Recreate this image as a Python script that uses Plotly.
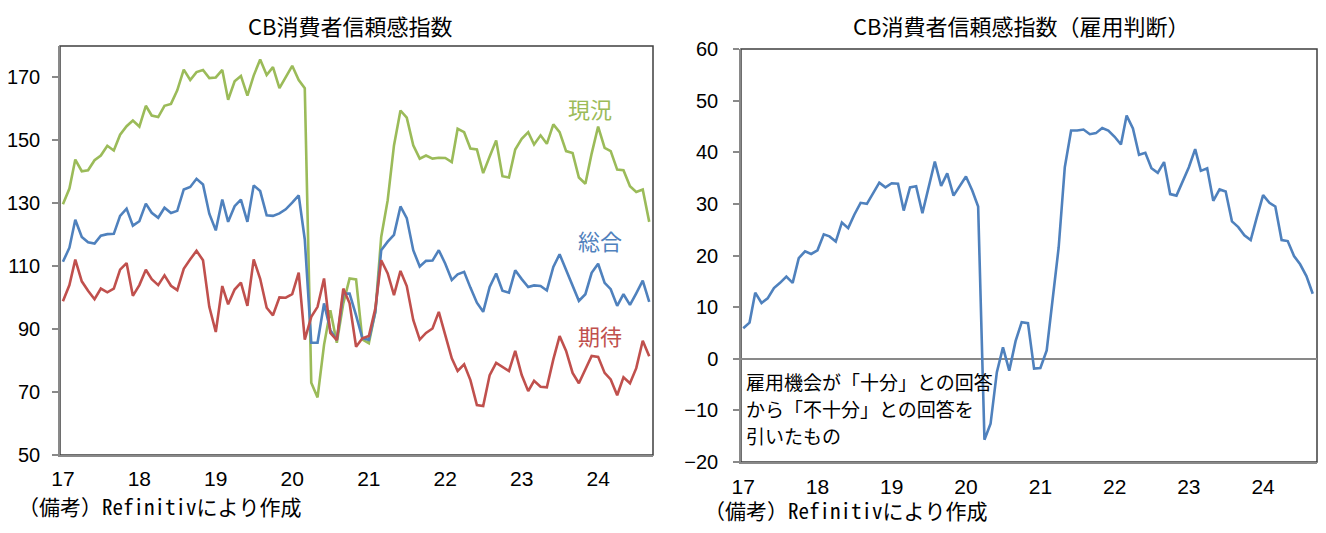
import pandas as pd
import plotly.graph_objects as go

# monthly data, 2017-01 .. 2024-09
months = pd.date_range("2017-01-01", periods=93, freq="MS")

genkyo = [129.7, 134.7, 143.9, 140.2, 140.5, 143.7, 145.2, 148.3, 146.8, 151.8, 154.5, 156.3,
          154.4, 161.0, 157.9, 157.4, 161.0, 161.6, 165.9, 172.5, 169.2, 171.7, 172.4, 169.8,
          170.0, 172.4, 162.9, 168.8, 170.5, 164.2, 170.6, 175.7, 170.8, 173.3, 166.6, 170.1,
          173.7, 169.2, 166.6, 73.0, 68.3, 85.0, 96.0, 85.7, 98.2, 106.1, 105.8, 86.7,
          85.5, 95.5, 119.3, 131.0, 148.4, 159.5, 157.2, 148.4, 144.2, 145.2, 144.2, 144.5,
          144.4, 143.1, 153.7, 152.6, 147.4, 147.1, 139.6, 144.9, 150.0, 138.6, 138.2, 147.1,
          150.5, 152.6, 148.7, 151.6, 148.9, 155.1, 152.6, 146.6, 146.0, 138.2, 136.2, 145.8,
          154.4, 147.6, 146.6, 140.7, 140.5, 135.4, 133.6, 134.4, 124.1]

sogo = [111.4, 115.9, 124.8, 119.3, 117.6, 117.2, 119.7, 120.2, 120.3, 126.0, 128.3, 122.9,
        124.3, 129.9, 127.0, 125.4, 128.6, 126.9, 127.6, 134.4, 135.2, 137.8, 136.0, 126.7,
        121.4, 131.2, 124.1, 129.1, 131.2, 124.1, 135.7, 133.9, 126.2, 126.0, 126.8, 128.1,
        130.2, 132.5, 118.5, 85.7, 85.7, 98.2, 89.7, 86.5, 101.3, 101.3, 94.4, 87.1,
        86.6, 95.5, 115.1, 117.8, 120.0, 129.0, 125.3, 115.1, 109.9, 111.7, 111.8, 115.1,
        110.8, 105.6, 107.4, 108.2, 103.2, 98.4, 95.5, 103.4, 107.7, 102.2, 101.6, 108.7,
        105.9, 103.4, 103.9, 103.7, 102.3, 109.8, 113.8, 108.7, 103.9, 99.0, 101.1, 107.9,
        110.8, 104.7, 102.7, 97.4, 101.1, 97.7, 101.4, 105.4, 98.7]

kitai = [98.9, 104.0, 112.1, 105.2, 102.2, 99.5, 102.9, 101.7, 102.9, 108.9, 111.0, 100.6,
         104.0, 108.9, 105.9, 104.0, 107.1, 103.8, 102.4, 109.2, 112.2, 114.9, 111.9, 97.1,
         89.1, 103.7, 97.9, 102.6, 104.8, 97.4, 112.2, 106.0, 96.8, 94.4, 100.1, 100.0,
         101.1, 108.0, 86.7, 93.9, 97.1, 106.1, 88.8, 86.5, 102.9, 98.2, 84.4, 87.1,
         87.8, 96.6, 111.9, 107.7, 100.8, 108.5, 103.7, 92.9, 86.7, 88.8, 90.2, 95.5,
         88.1, 80.7, 76.7, 78.8, 73.8, 65.9, 65.6, 75.4, 79.3, 78.0, 76.7, 83.1,
         75.4, 70.3, 73.6, 71.7, 71.5, 80.4, 87.8, 83.1, 76.1, 72.8, 77.2, 81.5,
         81.2, 76.1, 74.0, 69.0, 74.7, 72.8, 77.6, 86.3, 81.4]

koyo = [5.9, 7.0, 12.8, 10.8, 11.7, 13.7, 14.7, 15.9, 14.7, 19.5, 20.8, 20.3,
        21.0, 24.1, 23.7, 22.7, 26.4, 25.3, 27.9, 30.2, 30.0, 32.1, 34.1, 33.2,
        34.0, 33.9, 28.7, 33.2, 33.4, 28.2, 33.2, 38.2, 33.5, 35.9, 31.6, 33.4,
        35.3, 32.6, 29.5, -15.7, -12.6, -2.6, 2.2, -2.3, 3.4, 7.1, 6.9, -1.9,
        -1.8, 1.6, 10.6, 21.6, 37.1, 44.2, 44.2, 44.4, 43.5, 43.7, 44.7, 44.2,
        43.0, 41.5, 47.1, 44.6, 39.5, 39.9, 36.9, 36.0, 38.1, 31.9, 31.6, 34.3,
        37.1, 40.6, 36.4, 36.9, 30.6, 32.8, 32.4, 26.6, 25.5, 23.9, 23.0, 27.4,
        31.7, 30.2, 29.5, 23.0, 22.8, 19.9, 18.3, 16.0, 12.6]

for s in (genkyo, sogo, kitai, koyo):
    assert len(s) == len(months)

year_ticks = pd.date_range("2017-01-01", periods=8, freq="YS")
year_labels = ["17", "18", "19", "20", "21", "22", "23", "24"]

note_lines = ["雇用機会が「十分」との回答", "から「不十分」との回答を", "引いたもの"]

GREEN = "#9BBB59"
BLUE = "#4F81BD"
RED = "#C0504D"
AXIS = "#898989"
FRAME = "#3F3F3F"

# the page body adds an 8px margin, so the figure is drawn 8px in from the corner
OFF = 8
W, H = 1326 - 2 * OFF, 533 - 2 * OFF


def px(x):
    return (x - OFF) / W


def py(y):
    return 1 - (y - OFF) / H


JP = "Noto Sans CJK JP"
NUM = "Liberation Sans"
NARROW = "Liberation Sans Narrow, Liberation Sans"
MONO = "Noto Sans Mono CJK JP, Noto Sans CJK JP"

fig = go.Figure()
for name, vals, col in [("現況", genkyo, GREEN), ("総合", sogo, BLUE), ("期待", kitai, RED)]:
    fig.add_trace(go.Scatter(x=months, y=vals, mode="lines", name=name,
                             line=dict(color=col, width=2.6), xaxis="x", yaxis="y"))
fig.add_trace(go.Scatter(x=months, y=koyo, mode="lines", name="雇用判断",
                         line=dict(color=BLUE, width=2.6), xaxis="x2", yaxis="y2"))

xcommon = dict(type="date", tickmode="array", tickvals=year_ticks, ticktext=year_labels,
               showgrid=False, zeroline=False, ticks="", automargin=False,
               showline=True, linecolor=AXIS, linewidth=1.5)
ycommon = dict(showgrid=False, ticks="outside", ticklen=6, tickcolor=AXIS, tickwidth=1.5,
               tickfont=dict(family=NUM, size=20, color="#000000"), automargin=False,
               showline=True, linecolor=AXIS, linewidth=1.5)

fig.update_layout(
    width=W, height=H,
    margin=dict(l=0, r=0, t=0, b=0),
    paper_bgcolor="white", plot_bgcolor="white",
    showlegend=False,
    xaxis=dict(domain=[px(60), px(653)], range=["2016-12-18", "2024-09-19"], anchor="y",
               tickfont=dict(family=NARROW, size=21, color="#000000"),
               ticklabelstandoff=4, **xcommon),
    yaxis=dict(domain=[py(455), py(46)], range=[50, 180],
               tickvals=[50, 70, 90, 110, 130, 150, 170], anchor="x", zeroline=False,
               ticklabelstandoff=8, **ycommon),
    xaxis2=dict(domain=[px(741), px(1317)], range=["2016-12-21", "2024-09-22"], anchor="y2",
                tickfont=dict(family=NUM, size=21, color="#000000"),
                ticklabelstandoff=5, **xcommon),
    yaxis2=dict(domain=[py(462), py(49)], range=[-20, 60], dtick=10,
                anchor="x2", zeroline=True, zerolinecolor=AXIS, zerolinewidth=1.5,
                ticklabelstandoff=11, **ycommon),
)

# plot-area frames
for xr, yr in (("x domain", "y domain"), ("x2 domain", "y2 domain")):
    fig.add_shape(type="rect", xref=xr, yref=yr, x0=0, x1=1, y0=0, y1=1,
                  line=dict(color=FRAME, width=1.5), layer="below")

# panel titles, pinned to the top edge so they are not clipped
for text, x in [("CB消費者信頼感指数", 350), ("CB消費者信頼感指数（雇用判断）", 1021)]:
    fig.add_annotation(text=text, xref="paper", yref="paper", x=px(x), y=1,
                       xanchor="center", yanchor="top", showarrow=False, borderpad=0,
                       font=dict(family=JP, size=22, color="#000000"))

for text, x, y, col in [("現況", 590, 108, GREEN), ("総合", 600, 240, BLUE), ("期待", 600, 335, RED)]:
    fig.add_annotation(text=text, xref="paper", yref="paper",
                       x=px(x), y=py(y), xanchor="center", yanchor="middle",
                       showarrow=False, font=dict(family=JP, size=22, color=col))

for k, line in enumerate(note_lines):
    fig.add_annotation(text=line, xref="paper", yref="paper", x=px(744),
                       y=py(381 + 27 * k), xanchor="left", yanchor="middle",
                       showarrow=False, font=dict(family=JP, size=19, color="#000000"))

for x0, y0 in [(16, 506), (702, 510)]:
    fig.add_annotation(text="（備考）Refinitivにより作成", xref="paper", yref="paper",
                       x=px(x0), y=py(y0), xanchor="left", yanchor="middle",
                       showarrow=False, font=dict(family=MONO, size=21, color="#000000"))

fig.write_html("out.html")
